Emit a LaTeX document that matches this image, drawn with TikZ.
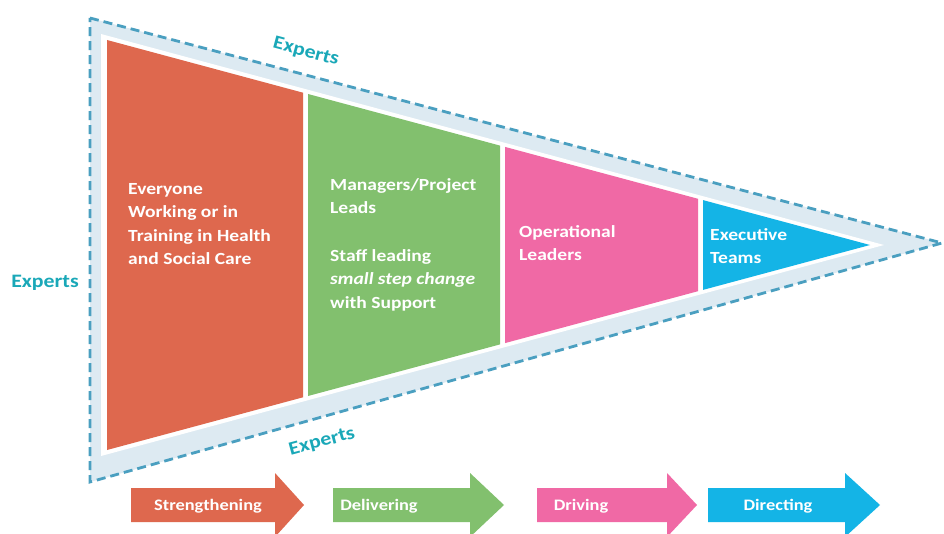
\documentclass[tikz,border=0pt]{standalone}
\usepackage{fontspec}
\setmainfont{Carlito}[FakeStretch=1.15]
\definecolor{cred}{HTML}{DE684E}
\definecolor{cgreen}{HTML}{82C06E}
\definecolor{cpink}{HTML}{F069A5}
\definecolor{cblue}{HTML}{14B4E6}
\definecolor{band}{HTML}{DDEAF2}
\definecolor{dashc}{HTML}{4A9FC0}
\definecolor{teal}{HTML}{1AA8B8}
\begin{document}
\begin{tikzpicture}[x=1pt,y=-1pt,
  lbl/.style={text=white,font=\fontsize{17}{23.5}\selectfont\bfseries,align=left,anchor=north west,inner sep=0pt},
  arrtxt/.style={text=white,font=\fontsize{16}{18}\selectfont\bfseries,inner sep=0pt},
  expert/.style={text=teal,font=\fontsize{19}{21}\selectfont\bfseries,inner sep=0pt}]
\useasboundingbox (0,0) rectangle (944,534);
\fill[white] (0,0) rectangle (944,534);
% outer band
\draw[fill=band,draw=dashc,line width=2.8pt,dash pattern=on 9pt off 5pt] (90,18) -- (942,243) -- (90,482) -- cycle;
\fill[white] (101,34) -- (884,245) -- (101,456) -- cycle;
% colored sections
\fill[cred] (107,40) -- (303,92.7) -- (303,397.3) -- (107,450) -- cycle;
\fill[cgreen] (308,94) -- (500,145.6) -- (500,344.4) -- (308,396) -- cycle;
\fill[cpink] (505,146.9) -- (698,198.8) -- (698,291.2) -- (505,343.1) -- cycle;
\fill[cblue] (703,200.1) -- (870,245) -- (703,289.9) -- cycle;
% texts
\node[lbl] (everyone) at (128,183) {Everyone\\Working or in\\Training in Health\\and Social Care};
\node[lbl] (managers) at (330,178) {Managers/Project\\Leads\\[24pt]Staff leading\\\textit{small step change}\\with Support};
\node[lbl] (oper) at (519,225) {Operational\\Leaders};
\node[lbl] (exec) at (710,228) {Executive\\Teams};
% experts
\node[expert,rotate=-15] (exptop) at (306,52) {Experts};
\node[expert,rotate=15] (expbot) at (322,442) {Experts};
\node[expert] (expleft) at (45,283) {Experts};
% arrows
\fill[cred] (131,488) -- (275,488) -- (275,473) -- (304,505) -- (275,537) -- (275,522) -- (131,522) -- cycle;
\fill[cgreen] (333,488) -- (470,488) -- (470,473) -- (504,505) -- (470,537) -- (470,522) -- (333,522) -- cycle;
\fill[cpink] (537,488) -- (667,488) -- (667,473) -- (697,505) -- (667,537) -- (667,522) -- (537,522) -- cycle;
\fill[cblue] (708,488) -- (845,488) -- (845,473) -- (880,505) -- (845,537) -- (845,522) -- (708,522) -- cycle;
\node[arrtxt] (a1) at (208,506) {Strengthening};
\node[arrtxt] (a2) at (379,506) {Delivering};
\node[arrtxt] (a3) at (581,506) {Driving};
\node[arrtxt] (a4) at (778,506) {Directing};
\end{tikzpicture}
\end{document}
